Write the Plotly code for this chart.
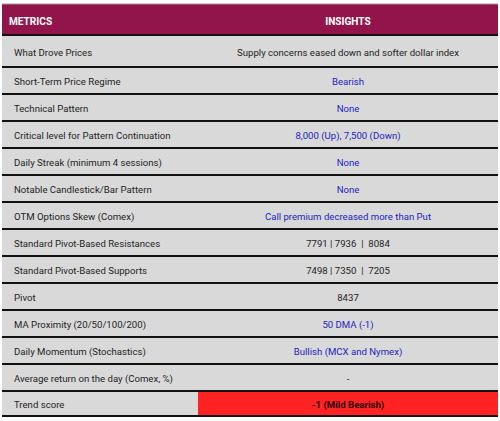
import plotly.graph_objects as go

# ---- data ----
header = ["METRICS", "INSIGHTS"]
metrics = [
    "What Drove Prices",
    "Short-Term Price Regime",
    "Technical Pattern",
    "Critical level for Pattern Continuation",
    "Daily Streak (minimum 4 sessions)",
    "Notable Candlestick/Bar Pattern",
    "OTM Options Skew (Comex)",
    "Standard Pivot-Based Resistances",
    "Standard Pivot-Based Supports",
    "Pivot",
    "MA Proximity (20/50/100/200)",
    "Daily Momentum (Stochastics)",
    "Average return on the day (Comex, %)",
    "Trend score",
]
NB = "\u00a0"
insights = [
    "Supply concerns eased down and softer dollar index",
    "Bearish",
    "None",
    "8,000 (Up), 7,500 (Down)",
    "None",
    "None",
    "Call premium decreased more than Put",
    f"7791 | 7936 {NB}| {NB}8084",
    f"7498 | 7350 {NB}| {NB}7205",
    "8437",
    "50 DMA (-1)",
    "Bullish (MCX and Nymex)",
    "-",
    "<b>-1 (Mild Bearish)</b>",
]
insight_kind = ["plain", "blue", "blue", "blue", "blue", "blue", "blue",
                "plain", "plain", "plain", "blue", "blue", "plain", "score"]

# ---- styles ----
W, H = 500, 421
TOP = 4
LEFT, SPLIT, RIGHT = 2, 198, 498
header_h = 31
row_h = [32] + [27] * 12 + [25]
TEXT_DY = 2.5
MAROON = "#91154a"
GRAY = "#d9d9d9"
RED = "#ff2222"
BLUE = "#2323bd"
DARK = "#1e1e1e"
SCORE_TXT = "#2a0606"
FONT = "Roboto, Liberation Sans, Arial, sans-serif"
FS = 9.6

kind_color = {"plain": DARK, "blue": BLUE, "score": SCORE_TXT}
kind_fill = {"plain": GRAY, "blue": GRAY, "score": RED}

# row geometry
bounds = [TOP, TOP + header_h]
for h in row_h:
    bounds.append(bounds[-1] + h)
centers = [(bounds[i] + bounds[i + 1]) / 2 for i in range(len(bounds) - 1)]
text_y = [c + TEXT_DY for c in centers]
heights = [header_h] + row_h

fig = go.Figure()

left_fill = [MAROON] + [GRAY] * len(metrics)
right_fill = [MAROON] + [kind_fill[k] for k in insight_kind]

fig.add_trace(go.Bar(orientation="h", y=centers, x=[SPLIT - LEFT] * len(centers),
                     base=[LEFT] * len(centers), width=heights,
                     marker=dict(color=left_fill, line=dict(width=0)),
                     hoverinfo="skip", showlegend=False))
fig.add_trace(go.Bar(orientation="h", y=centers, x=[RIGHT - SPLIT] * len(centers),
                     base=[SPLIT] * len(centers), width=heights,
                     marker=dict(color=right_fill, line=dict(width=0)),
                     hoverinfo="skip", showlegend=False))

# separators
sx, sy = [], []
for b in bounds[1:]:
    sx += [LEFT, RIGHT, None]
    sy += [b, b, None]
fig.add_trace(go.Scatter(x=sx, y=sy, mode="lines", line=dict(color="#111111", width=2),
                         hoverinfo="skip", showlegend=False))
fig.add_trace(go.Scatter(x=[LEFT, RIGHT], y=[TOP, TOP], mode="lines",
                         line=dict(color="#9a9a9a", width=1),
                         hoverinfo="skip", showlegend=False))

# header text
fig.add_trace(go.Scatter(x=[9], y=[text_y[0]], mode="text", text=[f"<b>{header[0]}</b>"],
                         textposition="middle right",
                         textfont=dict(family=FONT, size=FS + 0.5, color="white"),
                         hoverinfo="skip", showlegend=False))
fig.add_trace(go.Scatter(x=[(SPLIT + RIGHT) / 2], y=[text_y[0]], mode="text",
                         text=[f"<b>{header[1]}</b>"], textposition="middle center",
                         textfont=dict(family=FONT, size=FS + 0.5, color="white"),
                         hoverinfo="skip", showlegend=False))

# metrics text
fig.add_trace(go.Scatter(x=[14] * len(metrics), y=text_y[1:], mode="text", text=metrics,
                         textposition="middle right",
                         textfont=dict(family=FONT, size=FS, color=DARK),
                         hoverinfo="skip", showlegend=False))
# insights text
fig.add_trace(go.Scatter(x=[(SPLIT + RIGHT) / 2] * len(insights), y=text_y[1:], mode="text",
                         text=insights, textposition="middle center",
                         textfont=dict(family=FONT, size=FS,
                                       color=[kind_color[k] for k in insight_kind]),
                         hoverinfo="skip", showlegend=False))

fig.update_layout(
    width=W, height=H, margin=dict(l=0, r=0, t=0, b=0),
    paper_bgcolor="white", plot_bgcolor="white", barmode="overlay", bargap=0,
    xaxis=dict(range=[0, W], visible=False, fixedrange=True),
    yaxis=dict(range=[H, 0], visible=False, fixedrange=True),
)
fig.write_html(
    "out.html",
    config={"displayModeBar": False, "staticPlot": True},
    post_script="document.body.style.margin='0px';document.body.style.overflow='hidden';",
)
